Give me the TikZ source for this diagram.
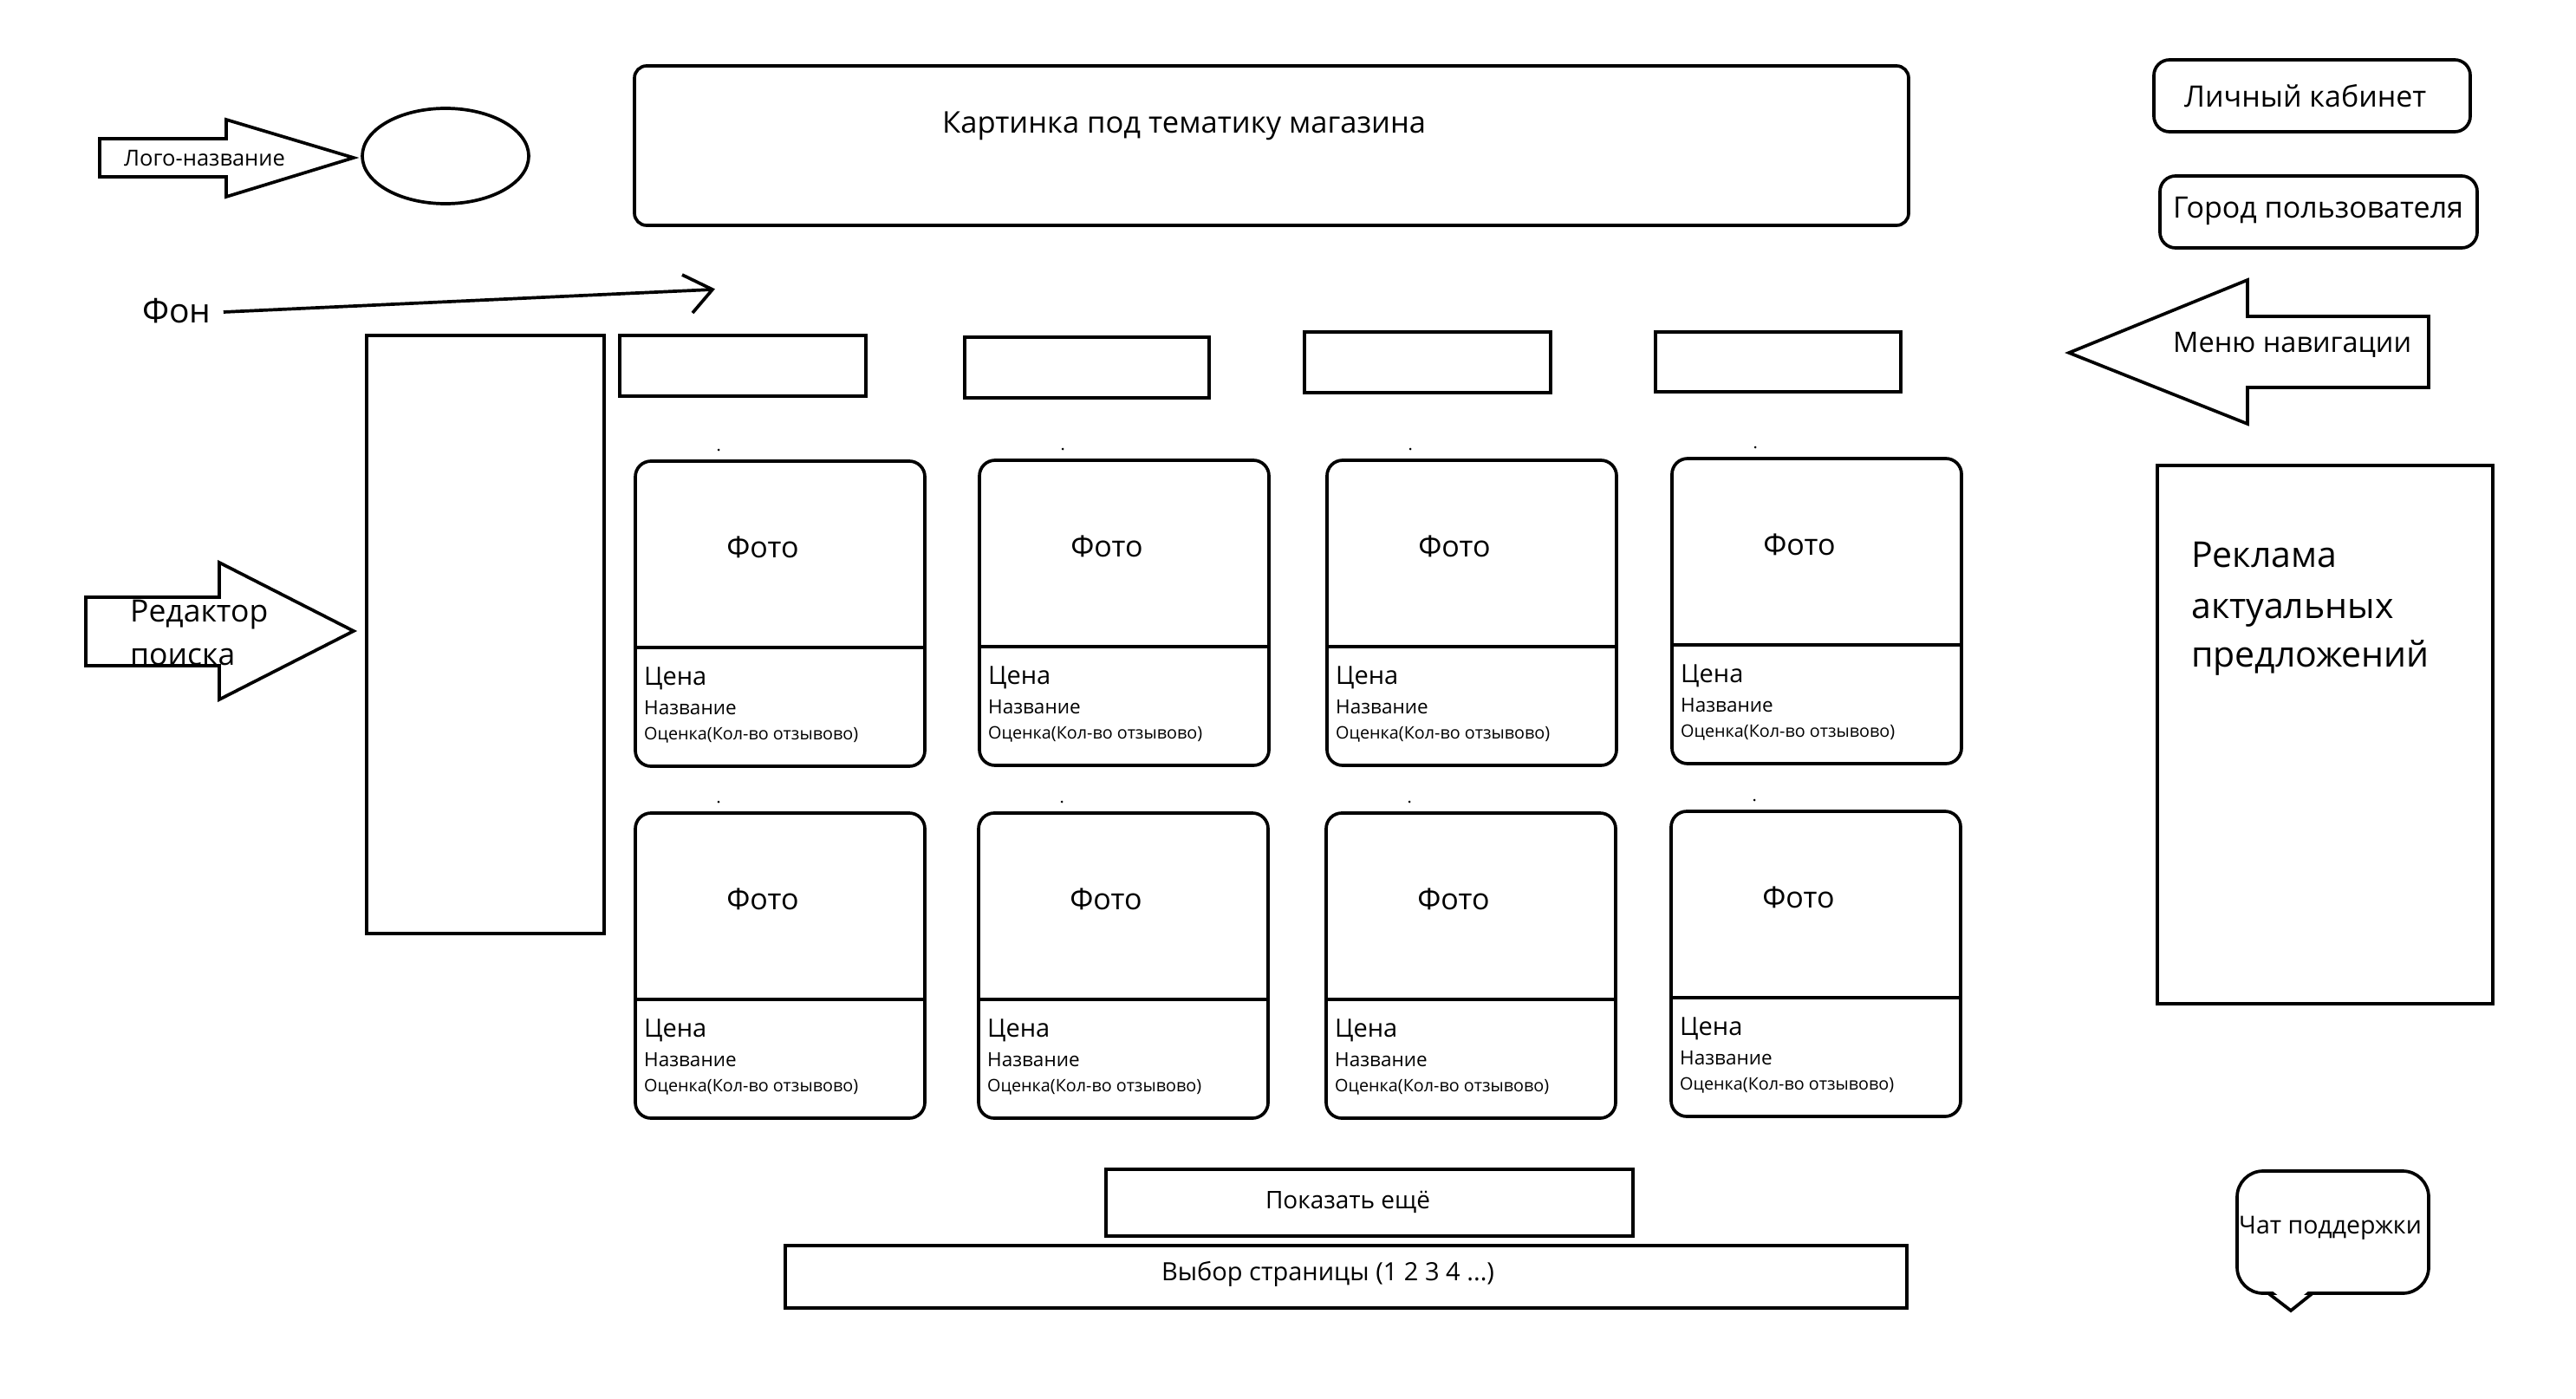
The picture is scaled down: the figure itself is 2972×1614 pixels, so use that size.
\documentclass[tikz,border=0pt]{standalone}
\usepackage{fontspec}
\setmainfont{Open Sans}
\usetikzlibrary{shapes.geometric}
\newcommand{\fsz}[2]{\fontsize{#1}{#2}\selectfont}
\tikzset{
  ln/.style={line width=3.7pt, line join=miter},
  box/.style={draw, ln, rectangle, inner sep=0pt, outer sep=0pt, anchor=north west},
  rbox/.style={box, rounded corners=#1},
  lbl/.style={inner sep=0pt, anchor=base west},
  cbl/.style={inner sep=0pt, anchor=base},
}
\begin{document}
\begin{tikzpicture}[x=1pt,y=-1pt]
\fill[white] (0,0) rectangle (2972,1614);
\path[use as bounding box] (0,0) rectangle (2972,1614);

% logo arrow and ellipse
\draw[ln] (115,160) -- (261,160) -- (261,138) -- (408,182) -- (261,227) -- (261,204) -- (115,204) -- cycle;
\node[lbl] (logot) at (143,191) {\fsz{25.5}{30}Лого-название};
\node[draw, ln, ellipse, inner sep=0pt, outer sep=0pt, minimum width=192pt, minimum height=110pt] (logo) at (514,180) {};

% Fon
\node[lbl] (fon) at (164,372) {\fsz{39}{46}Фон};
\coordinate (fonend) at (822,334);
\draw[ln] ([shift={(14pt,12pt)}]fon.base east) -- (fonend);
\draw[ln] ([shift={(-35pt,17pt)}]fonend) -- (fonend) -- ([shift={(-23pt,-27pt)}]fonend);

% search arrow
\draw[ln] (99,689) -- (253,689) -- (253,649) -- (408,728) -- (253,807) -- (253,768) -- (99,768) -- cycle;
\node[lbl] (red1) at (150,717) {\fsz{35.5}{43}Редактор};
\node[lbl] (red2) at (150,767) {\fsz{35.5}{43}поиска};

% search panel
\node[box, minimum width=274pt, minimum height=690pt] (search) at (423,387) {};

% banner
\node[rbox=14pt, minimum width=1470pt, minimum height=184pt] (banner) at (732,76) {};
\node[lbl] (bannert) at (1087,153) {\fsz{34.5}{41}Картинка под тематику магазина};

% nav rects
\node[box, minimum width=284pt, minimum height=70pt] (nav1) at (715,387) {};
\node[box, minimum width=282pt, minimum height=70pt] (nav2) at (1113,389) {};
\node[box, minimum width=284pt, minimum height=70pt] (nav3) at (1505,383) {};
\node[box, minimum width=283pt, minimum height=69pt] (nav4) at (1910,383) {};

% cards
\foreach \n/\x/\y in {a/733/532, b/1130/531, c/1531/531, d/1929/529, e/733/938, f/1129/938, g/1530/938, h/1928/936}{
  \node[rbox=18pt, minimum width=334pt, minimum height=352pt] (card\n) at (\x,\y) {};
  \draw[ln] ([yshift=-215pt]card\n.north west) -- ([yshift=-215pt]card\n.north east);
  \fill ([shift={(96pt,13pt)}]card\n.north west) circle (1.5pt);
  \node[cbl] (foto\n) at ([shift={(147pt,-111pt)}]card\n.north west) {\fsz{34}{41}Фото};
  \node[lbl] (price\n) at ([shift={(10pt,-258pt)}]card\n.north west) {\fsz{29}{35}Цена};
  \node[lbl] (name\n) at ([shift={(10pt,-292pt)}]card\n.north west) {\fsz{22.5}{27}Название};
  \node[lbl] (rate\n) at ([shift={(10pt,-321pt)}]card\n.north west) {\fsz{19.8}{24}Оценка(Кол-во отзывово)};
}

% right column
\node[rbox=18pt, minimum width=365pt, minimum height=83pt] (cab) at (2485,69) {};
\node[lbl] (cabt) at (2520,123) {\fsz{34}{41}Личный кабинет};
\node[rbox=18pt, minimum width=366pt, minimum height=83pt] (city) at (2492,203) {};
\node[lbl] (cityt) at (2507,251) {\fsz{34}{41}Город пользователя};

\draw[ln] (2387,407) -- (2593,323) -- (2593,365) -- (2802,365) -- (2802,447) -- (2593,447) -- (2593,489) -- cycle;
\node[lbl] (menut) at (2507,406) {\fsz{32.5}{40}Меню навигации};

\node[box, minimum width=387pt, minimum height=621pt] (ad) at (2489,537) {};
\node[lbl] (ad1) at (2528,654) {\fsz{41}{50}Реклама};
\node[lbl] (ad2) at (2528,713) {\fsz{41}{50}актуальных};
\node[lbl] (ad3) at (2528,769) {\fsz{41}{50}предложений};

% chat bubble
\node[rbox=30pt, minimum width=221pt, minimum height=141pt] (chat) at (2581,1351) {};
\fill[white] (2620,1488) -- (2643,1506) -- (2665,1488) -- cycle;
\draw[ln] (2617,1492) -- (2643,1512) -- (2668,1492);
\node[lbl] (chatt) at (2583,1423) {\fsz{28.5}{34}Чат поддержки};

% bottom buttons
\node[box, minimum width=608pt, minimum height=77pt] (more) at (1276,1349) {};
\node[cbl] (moret) at (1555,1394) {\fsz{28}{33}Показать ещё};
\node[box, minimum width=1294pt, minimum height=72pt] (pages) at (906,1437) {};
\node[cbl] (pagest) at (1532,1477) {\fsz{29}{34}Выбор страницы (1 2 3 4 ...)};
\end{tikzpicture}
\end{document}
